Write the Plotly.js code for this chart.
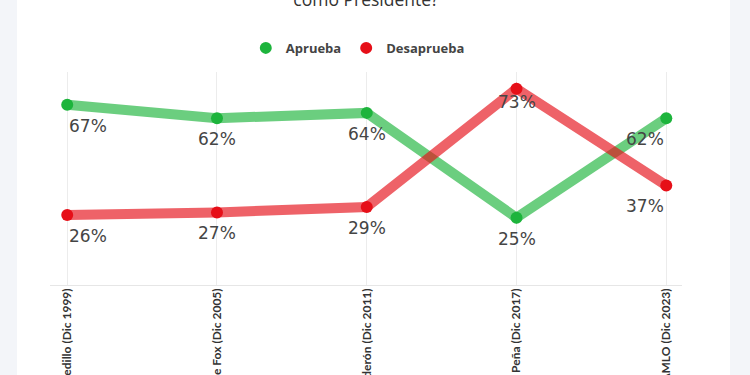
<!DOCTYPE html>
<html>
<head>
<meta charset="utf-8">
<script src="https://cdn.plot.ly/plotly-3.0.1.min.js"></script>
<style>
  html, body { margin: 0; padding: 0; background: #f3f5f9; width: 750px; height: 375px; overflow: hidden; }
  #chart { position: absolute; left: 17px; top: 0; width: 713px; height: 375px; background: #ffffff; }
</style>
</head>
<body>
<div id="chart"></div>
<script>
const categories = ['Ernesto Zedillo (Dic 1999)', 'Vicente Fox (Dic 2005)', 'Felipe Calderón (Dic 2011)', 'Peña (Dic 2017)', 'AMLO (Dic 2023)'];
const aprueba = [67, 62, 64, 25, 62];
const desaprueba = [26, 27, 29, 73, 37];
const seriesNames = ['Aprueba', 'Desaprueba'];
const titleText = 'como Presidente?';

const greenDot = '#1db43c';
const redDot = '#e60f18';
const labelAnchor = ['left', 'center', 'center', 'center', 'right'];
const pct = v => v + '%';
const labelFont = { family: 'DejaVu Sans, sans-serif', size: 17, color: '#454545' };

const traces = [
  { x: categories, y: aprueba, type: 'scatter', mode: 'lines', line: { color: greenDot, width: 10 }, opacity: 0.65, showlegend: false, hoverinfo: 'skip' },
  { x: categories, y: desaprueba, type: 'scatter', mode: 'lines', line: { color: redDot, width: 10 }, opacity: 0.65, showlegend: false, hoverinfo: 'skip' },
  { x: categories, y: aprueba, name: seriesNames[0], type: 'scatter', mode: 'markers', marker: { color: greenDot, size: 12 }, cliponaxis: false },
  { x: categories, y: desaprueba, name: seriesNames[1], type: 'scatter', mode: 'markers', marker: { color: redDot, size: 12 }, cliponaxis: false }
];

function labelsFor(values) {
  const top = Math.max.apply(null, aprueba.concat(desaprueba));
  return values.map((v, i) => ({
    x: categories[i], y: v, xref: 'x', yref: 'y', text: pct(v), showarrow: false,
    xanchor: labelAnchor[i], yanchor: 'top', yshift: v === top ? -1 : -9, font: labelFont
  }));
}

const layout = {
  width: 713, height: 375,
  margin: { l: 33, r: 48, t: 72, b: 90 },
  paper_bgcolor: '#ffffff', plot_bgcolor: '#ffffff',
  font: { family: 'Open Sans, sans-serif', color: '#444444' },
  title: { text: titleText, font: { family: 'Open Sans, sans-serif', size: 17.5, color: '#333333' },
           xref: 'paper', x: 0.5, xanchor: 'center', yref: 'container', y: 1, yanchor: 'middle' },
  showlegend: true,
  legend: { orientation: 'h', x: 0.487, xanchor: 'center', xref: 'paper', y: 1.113, yanchor: 'middle',
            font: { family: 'Open Sans, sans-serif', size: 13, color: '#444444', weight: 'bold' }, itemwidth: 30, traceorder: 'normal' },
  xaxis: { type: 'category', range: [-0.115, 4.105], showgrid: true, gridcolor: '#ececec', gridwidth: 1,
           showline: false, zeroline: false, ticks: '', tickangle: -90,
           tickfont: { family: 'Lato, sans-serif', size: 12, color: '#333333', weight: 'bold' }, automargin: false, fixedrange: true },
  yaxis: { range: [0, 79.2], showgrid: false, zeroline: true, zerolinecolor: '#e6e6e6', zerolinewidth: 1,
           showticklabels: false, ticks: '', showline: false, fixedrange: true },
  annotations: labelsFor(aprueba).concat(labelsFor(desaprueba)),
  hovermode: false
};

Plotly.newPlot('chart', traces, layout, { displayModeBar: false, staticPlot: true });
</script>
</body>
</html>
